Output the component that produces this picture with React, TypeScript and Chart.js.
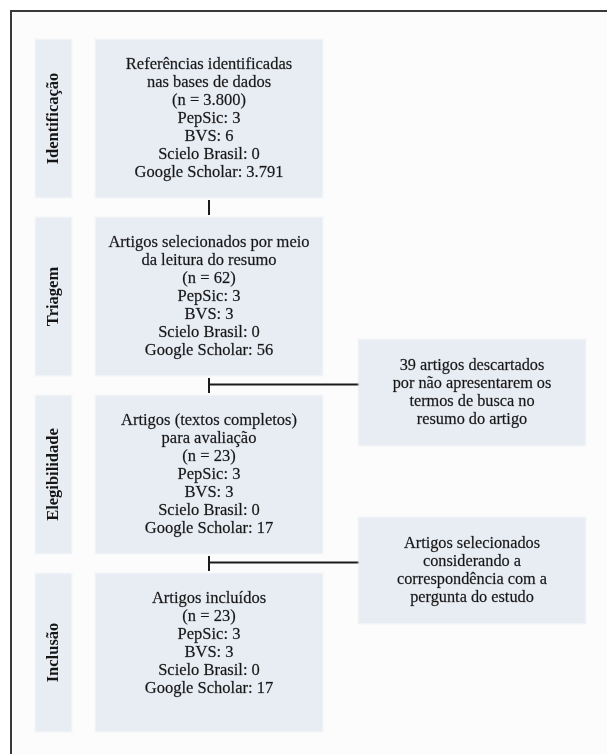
import React, { useEffect, useRef } from "react";
import { Chart, registerables } from "chart.js";

Chart.register(...registerables);

// ---- data ----
const stages = ["Identificação", "Triagem", "Elegibilidade", "Inclusão"];
const stageTitles = [
  ["Referências identificadas", "nas bases de dados"],
  ["Artigos selecionados por meio", "da leitura do resumo"],
  ["Artigos (textos completos)", "para avaliação"],
  ["Artigos incluídos"],
];
const stageTotals = [3800, 62, 23, 23];
const sources = ["PepSic", "BVS", "Scielo Brasil", "Google Scholar"];
const pepsicCounts = [3, 3, 3, 3];
const bvsCounts = [6, 3, 3, 3];
const scieloCounts = [0, 0, 0, 0];
const googleCounts = [3791, 56, 17, 17];
const sideNotes = [
  ["39 artigos descartados", "por não apresentarem os", "termos de busca no", "resumo do artigo"],
  ["Artigos selecionados", "considerando a", "correspondência com a", "pergunta do estudo"],
];
const sideNoteAfterStage = [1, 2];

// ---- layout (scale units) ----
const X_RANGE = [0, 607];
const Y_RANGE = [-0.6657, 3.5702];
const LABEL_COL = [36, 71];
const MAIN_COL = [96, 322];
const SIDE_COL = [359, 585];
const BOX_HALF = 0.441;
const SIDE_OFFSET = 0.039;
const SIDE_HALF = 0.295;

const fmt = (n: number) => String(n).replace(/\B(?=(\d{3})+(?!\d))/g, ".");

const FONT = '"Liberation Serif", "Times New Roman", serif';
const BOX_FILL = "#e8ecf3";
const TEXT = "#161616";
const LINE = "#1a1a1a";

const flowPlugin = {
  id: "flow",
  beforeDraw(chart: any) {
    const { ctx, scales } = chart;
    const xs = scales.x;
    const ys = scales.y;
    const px = (v: number) => xs.getPixelForValue(v);
    const py = (v: number) => ys.getPixelForValue(v);

    ctx.save();
    ctx.fillStyle = "#ffffff";
    ctx.fillRect(0, 0, chart.width, chart.height);
    ctx.fillStyle = "#fcfcfd";
    ctx.fillRect(11, 11, chart.width - 11, chart.height - 11);
    ctx.strokeStyle = "#3a3a3a";
    ctx.lineWidth = 2;
    ctx.beginPath();
    ctx.moveTo(11, chart.height);
    ctx.lineTo(11, 11);
    ctx.lineTo(chart.width, 11);
    ctx.stroke();

    const box = (x0: number, x1: number, y0: number, y1: number) => {
      const l = px(x0), r = px(x1), t = py(y0), b = py(y1);
      ctx.fillStyle = "rgba(232,236,243,0.55)";
      ctx.fillRect(l - 1.5, t - 1.5, r - l + 3, b - t + 3);
      ctx.fillStyle = BOX_FILL;
      ctx.fillRect(l, t, r - l, b - t);
      return { l, r, t, b };
    };

    const txt = (s: string, x: number, y: number) => {
      ctx.fillText(s, x, y);
      ctx.strokeText(s, x, y);
    };

    const lines = (arr: string[], cx: number, top: number, size: number) => {
      ctx.fillStyle = TEXT;
      ctx.strokeStyle = "rgba(22,22,22,0.55)";
      ctx.lineWidth = 0.35;
      ctx.font = `${size}px ${FONT}`;
      ctx.textAlign = "center";
      ctx.textBaseline = "middle";
      arr.forEach((s, k) => txt(s, cx, top + 25 + 18 * k));
    };

    stages.forEach((stage, i) => {
      const lb = box(LABEL_COL[0], LABEL_COL[1], i - BOX_HALF, i + BOX_HALF);
      ctx.save();
      ctx.translate((lb.l + lb.r) / 2, (lb.t + lb.b) / 2);
      ctx.rotate(-Math.PI / 2);
      ctx.fillStyle = TEXT;
      ctx.font = `bold 16.5px ${FONT}`;
      ctx.textAlign = "center";
      ctx.textBaseline = "middle";
      ctx.fillText(stage, 0, 0);
      ctx.restore();

      const mb = box(MAIN_COL[0], MAIN_COL[1], i - BOX_HALF, i + BOX_HALF);
      const content = [
        ...stageTitles[i],
        `(n = ${fmt(stageTotals[i])})`,
        `${sources[0]}: ${fmt(pepsicCounts[i])}`,
        `${sources[1]}: ${fmt(bvsCounts[i])}`,
        `${sources[2]}: ${fmt(scieloCounts[i])}`,
        `${sources[3]}: ${fmt(googleCounts[i])}`,
      ];
      lines(content, (mb.l + mb.r) / 2, mb.t, 16.5);
    });

    const cxv = (MAIN_COL[0] + MAIN_COL[1]) / 2;
    ctx.strokeStyle = LINE;
    ctx.lineWidth = 2;
    for (let i = 0; i < stages.length - 1; i++) {
      const gTop = py(i + BOX_HALF);
      const gBot = py(i + 1 - BOX_HALF);
      const x = px(cxv);
      ctx.beginPath();
      ctx.moveTo(x, gTop + 3);
      ctx.lineTo(x, gBot - 3);
      ctx.stroke();
      const si = sideNoteAfterStage.indexOf(i);
      if (si >= 0) {
        const ym = py(i + 0.5) - 1;
        ctx.beginPath();
        ctx.moveTo(x, ym);
        ctx.lineTo(px(SIDE_COL[0]), ym);
        ctx.stroke();
      }
    }

    sideNotes.forEach((note, j) => {
      const c = sideNoteAfterStage[j] + 0.5 + SIDE_OFFSET;
      const sb = box(SIDE_COL[0], SIDE_COL[1], c - SIDE_HALF, c + SIDE_HALF);
      lines(note, (sb.l + sb.r) / 2, sb.t + 1, 16.3);
    });

    ctx.restore();
  },
};

export default function App() {
  const ref = useRef<HTMLCanvasElement | null>(null);
  useEffect(() => {
    if (!ref.current) return;
    const chart = new Chart(ref.current, {
      type: "scatter",
      data: { datasets: [] },
      options: {
        responsive: false,
        animation: false,
        layout: { padding: 0 },
        plugins: { legend: { display: false }, tooltip: { enabled: false } },
        scales: {
          x: { type: "linear", min: X_RANGE[0], max: X_RANGE[1], display: false },
          y: { type: "linear", min: Y_RANGE[0], max: Y_RANGE[1], reverse: true, display: false },
        },
      },
      plugins: [flowPlugin],
    });
    return () => chart.destroy();
  }, []);
  return (
    <div style={{ position: "absolute", left: 0, top: 0, width: 607, height: 754, background: "#fff" }}>
      <canvas ref={ref} width={607} height={754} style={{ display: "block" }} />
    </div>
  );
}
